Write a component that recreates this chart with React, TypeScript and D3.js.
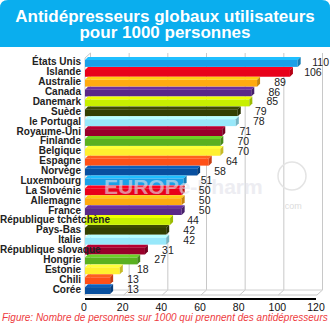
import React from "react";
import * as d3 from "d3";

const categories = [
  "États Unis", "Islande", "Australie", "Canada", "Danemark", "Suède", "le Portugal",
  "Royaume-Uni", "Finlande", "Belgique", "Espagne", "Norvège", "Luxembourg", "La Slovénie",
  "Allemagne", "France", "République tchétchène", "Pays-Bas", "Italie", "République slovaque",
  "Hongrie", "Estonie", "Chili", "Corée",
];
const values = [110, 106, 89, 86, 85, 79, 78, 71, 70, 70, 64, 58, 51, 50, 50, 50, 44, 42, 42, 31, 27, 18, 13, 13];
const palette = [
  "#1AA0E8", "#E8001A", "#FFAA10", "#5A2888", "#C8F000", "#334000",
  "#98E8FA", "#98002A", "#5AB020", "#FFF030", "#FF5018", "#0850A0",
];
const ticks = [0, 20, 40, 60, 80, 100, 120];
const titleLines = ["Antidépresseurs globaux utilisateurs", "pour 1000 personnes"];
const caption = "Figure: Nombre de personnes sur 1000 qui prennent des antidépresseurs";

const W = 330, H = 324;
const FONT = "'Liberation Sans', Arial, sans-serif";

let ctx: CanvasRenderingContext2D | null = null;
function measure(text: string, font: string) {
  if (!ctx) ctx = document.createElement("canvas").getContext("2d");
  if (!ctx) return text.length * 5.5;
  ctx.font = font;
  return ctx.measureText(text).width;
}

export default function App() {
  const x0 = 85, x1 = 317;
  const dx = 5.5, dy = 5;
  const yTop = 58, yBottom = 295;
  const x = d3.scaleLinear().domain([0, 120]).range([x0, x1]);
  const y = d3.scaleBand().domain(categories).range([57, 294]).padding(0);
  const bw = y.bandwidth();
  const depth = 3;
  const labelRight = 81;

  return (
    <svg width={W} height={H} style={{ position: "absolute", left: 0, top: 0, background: "#fff" }} fontFamily={FONT}>
      {/* Title box */}
      <path d={`M0,47 L0,8 Q0,0 8,0 L322,0 Q330,0 330,8 L330,47 Z`} fill="#0AAEEE" />
      {titleLines.map((t, i) => (
        <text key={i} x={W / 2} y={22 + i * 16} textAnchor="middle" fill="#fff" fontSize={17} fontWeight="bold">{t}</text>
      ))}

      {/* 3D frame: back wall gridlines */}
      {ticks.map((t) => (
        <g key={t} stroke="#c8c8c8" strokeWidth={1}>
          <line x1={x(t) + dx} x2={x(t) + dx} y1={yTop - dy} y2={yBottom - dy} />
          <line x1={x(t) + dx} x2={x(t)} y1={yBottom - dy} y2={yBottom} />
        </g>
      ))}
      <line x1={x0 + dx} x2={x1 + dx} y1={yBottom - dy} y2={yBottom - dy} stroke="#d0d0d0" />
      <line x1={x0} x2={x1} y1={yBottom} y2={yBottom} stroke="#c8c8c8" />
      <line x1={x0} x2={x0} y1={yTop} y2={yBottom} stroke="#c8c8c8" />
      <line x1={x0} x2={x0 + dx} y1={yTop} y2={yTop - dy} stroke="#c8c8c8" />
      <line x1={x0} x2={x1 - 1} y1={299} y2={299} stroke="#000" strokeWidth={2} />

      {/* Bars */}
      {categories.map((c, i) => {
        const v = values[i];
        const col = palette[i % palette.length];
        const b = y(c) as number;
        const xe = x(v);
        const top = d3.color(col)!.brighter(0.5).toString();
        const side = d3.color(col)!.darker(0.7).toString();
        return (
          <g key={c}>
            <polygon points={`${x0},${b + depth} ${xe},${b + depth} ${xe + depth},${b} ${x0 + depth},${b}`} fill={top} />
            <rect x={x0} y={b + depth} width={xe - x0} height={bw - depth} fill={col} />
            <polygon points={`${xe},${b + depth} ${xe + depth},${b} ${xe + depth},${b + bw - depth} ${xe},${b + bw}`} fill={side} />
          </g>
        );
      })}

      {/* Watermark */}
      <text x={104} y={194} fontSize={21} fontWeight="bold" fill="#e2e2ea" opacity={0.6}>EUROPe-Pharm</text>
      <circle cx={292} cy={176} r={14} fill="none" stroke="#e4e4e4" strokeWidth={1.5} />
      <text x={292} y={209} fontSize={9} textAnchor="middle" fill="#dcdcdc">.com</text>

      {/* Category labels */}
      {categories.map((c) => {
        const font = `bold 10px ${FONT}`;
        const w = measure(c, font);
        const cy = (y(c) as number) + bw / 2;
        const xs = Math.max(0, labelRight - w);
        return (
          <text key={c} x={xs} y={cy + 3.5} fontSize={10} fontWeight="bold" fill="#222">{c}</text>
        );
      })}

      {/* Value labels */}
      {categories.map((c, i) => (
        <text key={c} x={x(values[i]) + 23} y={(y(c) as number) + bw / 2 + 4} textAnchor="middle" fontSize={10.5} fill="#222">{values[i]}</text>
      ))}

      {/* Axis tick labels */}
      {ticks.map((t) => (
        <text key={t} x={x(t) - 1} y={311} textAnchor="middle" fontSize={10.5} fill="#111">{t}</text>
      ))}

      {/* Caption */}
      <text x={2} y={321} fontSize={10} fontStyle="italic" fill="#EE3A40">{caption}</text>
    </svg>
  );
}
